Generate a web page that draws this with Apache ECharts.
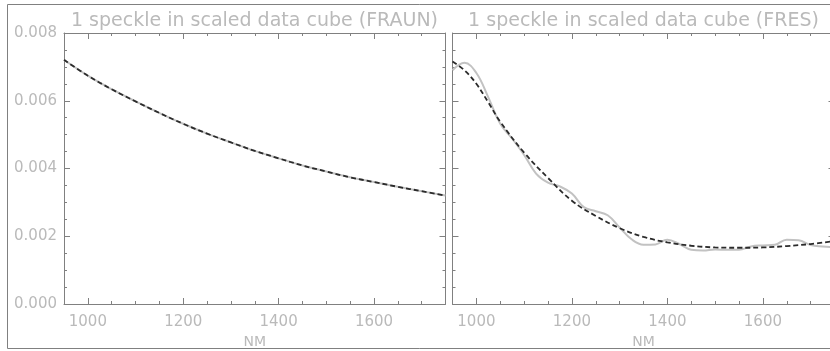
<!DOCTYPE html>
<html>
<head>
<meta charset="utf-8">
<script src="https://cdn.jsdelivr.net/npm/echarts@6.0.0/dist/echarts.min.js"></script>
<style>
  html, body { margin: 0; padding: 0; background: #fff; }
  #speckle-chart { width: 830px; height: 351px; }
</style>
</head>
<body>
<div id="speckle-chart"></div>
<script>
  // wavelength samples (nm)
  var fraunNm = [950, 1000, 1050, 1100, 1150, 1200, 1250, 1300, 1350, 1400, 1450, 1500, 1550, 1600, 1650, 1700, 1750];
  // FRAUN: measured and model coincide
  var fraunSpeckle = [0.00721, 0.00674, 0.00634, 0.00598, 0.00564, 0.00532, 0.00503, 0.00477, 0.00452, 0.00430,
    0.00409, 0.00391, 0.00374, 0.00360, 0.00346, 0.00333, 0.00320];

  // FRES model (dashed)
  var fresModelNm = [950, 975, 1000, 1025, 1050, 1100, 1150, 1200, 1250, 1300, 1350, 1400, 1450, 1500, 1550, 1600, 1650, 1700, 1750];
  var fresModel = [0.00716, 0.00690, 0.00650, 0.00595, 0.00538, 0.00447, 0.00372, 0.00305, 0.00260, 0.00224, 0.00198,
    0.00182, 0.00172, 0.00167, 0.00166, 0.00167, 0.00171, 0.00177, 0.00186];

  // FRES measured (grey solid)
  var fresNm = [950, 975, 1000, 1025, 1050, 1075, 1100, 1125, 1150, 1175, 1200, 1225, 1250, 1275, 1300, 1325, 1350,
    1375, 1400, 1425, 1450, 1475, 1500, 1525, 1550, 1575, 1600, 1625, 1650, 1675, 1700, 1725, 1750];
  var fresSpeckle = [0.00690, 0.00712, 0.00682, 0.00610, 0.00532, 0.00488, 0.00440, 0.00385, 0.00358, 0.00347, 0.00326,
    0.00286, 0.00274, 0.00262, 0.00226, 0.00191, 0.00175, 0.00176, 0.00190, 0.00177, 0.00160, 0.00158, 0.00161,
    0.00160, 0.00160, 0.00170, 0.00173, 0.00175, 0.00190, 0.00188, 0.00174, 0.00170, 0.00168];

  var xMajorTicks = [1000, 1200, 1400, 1600];
  var xMinorTicks = [950, 1000, 1050, 1100, 1150, 1200, 1250, 1300, 1350, 1400, 1450, 1500, 1550, 1600, 1650, 1700, 1750];

  function pairs(xs, ys) {
    return xs.map(function (x, i) { return [x, ys[i]]; });
  }

  var axisColor = '#808080';
  var textColor = '#bababa';
  var labelFont = 'DejaVu Sans';

  function xAxes(gridIndex) {
    var base = {
      type: 'value',
      gridIndex: gridIndex,
      min: 950,
      max: 1750,
      splitLine: { show: false },
      axisLine: { show: true, lineStyle: { color: axisColor, width: 1 } }
    };
    return [
      Object.assign({}, base, {
        position: 'bottom',
        name: 'NM',
        nameLocation: 'middle',
        nameGap: 31,
        nameTextStyle: { color: textColor, fontFamily: labelFont, fontSize: 14 },
        axisTick: { inside: true, length: 3, customValues: xMinorTicks, lineStyle: { color: axisColor } },
        axisLabel: {
          customValues: xMajorTicks, margin: 11, color: textColor, fontFamily: labelFont, fontSize: 15,
          formatter: function (v) { return String(v); }
        }
      }),
      Object.assign({}, base, {
        position: 'bottom',
        axisLine: { show: false },
        axisTick: { inside: true, length: 6, customValues: xMajorTicks, lineStyle: { color: axisColor } },
        axisLabel: { show: false }
      }),
      Object.assign({}, base, {
        position: 'top',
        axisTick: { inside: true, length: 3, customValues: xMinorTicks, lineStyle: { color: axisColor } },
        axisLabel: { show: false }
      }),
      Object.assign({}, base, {
        position: 'top',
        axisLine: { show: false },
        axisTick: { inside: true, length: 6, customValues: xMajorTicks, lineStyle: { color: axisColor } },
        axisLabel: { show: false }
      })
    ];
  }

  function yAxes(gridIndex, showLabels) {
    var base = {
      type: 'value',
      gridIndex: gridIndex,
      min: 0,
      max: 0.008,
      interval: 0.002,
      splitLine: { show: false },
      axisLine: { show: true, lineStyle: { color: axisColor, width: 1 } },
      axisTick: { inside: true, length: 6, lineStyle: { color: axisColor } },
      minorTick: { show: true, splitNumber: 4, length: 3, lineStyle: { color: axisColor } }
    };
    return [
      Object.assign({}, base, {
        position: 'left',
        axisLabel: {
          show: showLabels, margin: 7, color: textColor, fontFamily: labelFont, fontSize: 15,
          formatter: function (v) { return v.toFixed(3); }
        }
      }),
      Object.assign({}, base, {
        position: 'right',
        axisLabel: { show: false }
      })
    ];
  }

  function greyLine(xAxisIndex, yAxisIndex, data) {
    return {
      type: 'line', xAxisIndex: xAxisIndex, yAxisIndex: yAxisIndex, data: data,
      smooth: 0.4, showSymbol: false, symbol: 'none', silent: true,
      lineStyle: { color: '#c2c2c2', width: 2 }, z: 2
    };
  }

  function dashedLine(xAxisIndex, yAxisIndex, data) {
    return {
      type: 'line', xAxisIndex: xAxisIndex, yAxisIndex: yAxisIndex, data: data,
      smooth: 0.4, showSymbol: false, symbol: 'none', silent: true,
      lineStyle: { color: '#2b2b2b', width: 1.8, type: [5, 3] }, z: 3
    };
  }

  var chart = echarts.init(document.getElementById('speckle-chart'), null, { renderer: 'canvas' });

  chart.setOption({
    animation: false,
    backgroundColor: '#ffffff',
    grid: [
      { left: 64, top: 33, width: 381.5, height: 271, outerBoundsMode: 'none', containLabel: false },
      { left: 452.5, top: 33, width: 382, height: 271, outerBoundsMode: 'none', containLabel: false }
    ],
    xAxis: xAxes(0).concat(xAxes(1)),
    yAxis: yAxes(0, true).concat(yAxes(1, false)),
    series: [
      greyLine(0, 0, pairs(fraunNm, fraunSpeckle)),
      dashedLine(0, 0, pairs(fraunNm, fraunSpeckle)),
      greyLine(4, 2, pairs(fresNm, fresSpeckle)),
      dashedLine(4, 2, pairs(fresModelNm, fresModel))
    ],
    graphic: [
      {
        type: 'rect', silent: true,
        shape: { x: 7.5, y: 4.5, width: 840, height: 344 },
        style: { fill: 'none', stroke: axisColor, lineWidth: 1 }
      },
      {
        type: 'text', silent: true, x: 254.5, y: 21,
        style: {
          text: '1 speckle in scaled data cube (FRAUN)', align: 'center', verticalAlign: 'middle',
          fill: textColor, fontFamily: labelFont, fontSize: 19
        }
      },
      {
        type: 'text', silent: true, x: 643.5, y: 21,
        style: {
          text: '1 speckle in scaled data cube (FRES)', align: 'center', verticalAlign: 'middle',
          fill: textColor, fontFamily: labelFont, fontSize: 19
        }
      }
    ]
  });
</script>
</body>
</html>
